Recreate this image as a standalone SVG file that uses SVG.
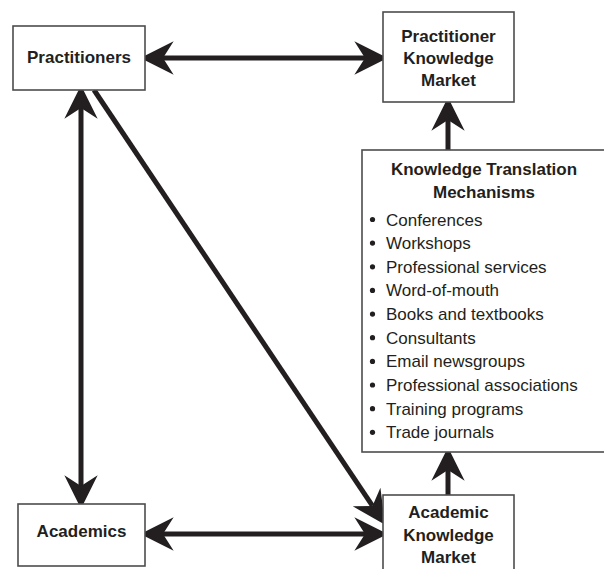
<svg xmlns="http://www.w3.org/2000/svg" width="604" height="569" viewBox="0 0 604 569">
<style>
.box{fill:#fff;stroke:#4d4d4d;stroke-width:1.6}
.t{font-family:"Liberation Sans",Arial,sans-serif;font-size:17px;fill:#231f20}
.b{font-weight:bold;text-anchor:middle}
.c{stroke:#231f20;stroke-width:5;fill:none}
.dot{fill:#231f20}
</style>
<defs>
<marker id="ah" markerUnits="userSpaceOnUse" markerWidth="40" markerHeight="40" viewBox="-10 -15 30 30" refX="0" refY="0" orient="auto-start-reverse">
<path d="M17,0 L-8,12.5 L0,0 L-8,-12.5 Z" fill="#231f20"/>
</marker>
</defs>
<rect width="604" height="569" fill="#fff"/>
<g id="connectors">
<line class="c" x1="163" y1="58" x2="365" y2="58" marker-start="url(#ah)" marker-end="url(#ah)"/>
<line class="c" x1="163" y1="534" x2="365" y2="534" marker-start="url(#ah)" marker-end="url(#ah)"/>
<line class="c" x1="81" y1="108" x2="81" y2="486" marker-start="url(#ah)" marker-end="url(#ah)"/>
<line class="c" x1="94" y1="90" x2="372.5" y2="505.9" marker-end="url(#ah)"/>
<line class="c" x1="448" y1="150" x2="448" y2="120" marker-end="url(#ah)"/>
<line class="c" x1="448" y1="495" x2="448" y2="470" marker-end="url(#ah)"/>
</g>
<g id="practitioners">
<rect class="box" x="13" y="26" width="132" height="64"/>
<text class="t b" x="79" y="63">Practitioners</text>
</g>
<g id="practitioner-knowledge-market">
<rect class="box" x="383" y="12" width="131" height="90"/>
<text class="t b" x="448.5" y="42">Practitioner</text>
<text class="t b" x="448.5" y="64">Knowledge</text>
<text class="t b" x="448.5" y="86">Market</text>
</g>
<g id="knowledge-translation-mechanisms">
<rect class="box" x="362" y="150" width="246" height="302"/>
<text class="t b" x="484" y="175">Knowledge Translation</text>
<text class="t b" x="484" y="198">Mechanisms</text>
<g class="t">
<text x="386" y="225.5">Conferences</text>
<text x="386" y="249.1">Workshops</text>
<text x="386" y="272.8">Professional services</text>
<text x="386" y="296.4">Word-of-mouth</text>
<text x="386" y="320.1">Books and textbooks</text>
<text x="386" y="343.7">Consultants</text>
<text x="386" y="367.4">Email newsgroups</text>
<text x="386" y="391">Professional associations</text>
<text x="386" y="414.7">Training programs</text>
<text x="386" y="438.3">Trade journals</text>
</g>
<g class="dot">
<circle cx="372.5" cy="219.5" r="2.6"/>
<circle cx="372.5" cy="243.1" r="2.6"/>
<circle cx="372.5" cy="266.8" r="2.6"/>
<circle cx="372.5" cy="290.4" r="2.6"/>
<circle cx="372.5" cy="314.1" r="2.6"/>
<circle cx="372.5" cy="337.7" r="2.6"/>
<circle cx="372.5" cy="361.4" r="2.6"/>
<circle cx="372.5" cy="385" r="2.6"/>
<circle cx="372.5" cy="408.7" r="2.6"/>
<circle cx="372.5" cy="432.3" r="2.6"/>
</g>
</g>
<g id="academics">
<rect class="box" x="18" y="504" width="127" height="62"/>
<text class="t b" x="81.5" y="537">Academics</text>
</g>
<g id="academic-knowledge-market">
<rect class="box" x="383" y="495" width="131" height="85"/>
<text class="t b" x="448.5" y="518">Academic</text>
<text class="t b" x="448.5" y="541">Knowledge</text>
<text class="t b" x="448.5" y="563">Market</text>
</g>
</svg>
